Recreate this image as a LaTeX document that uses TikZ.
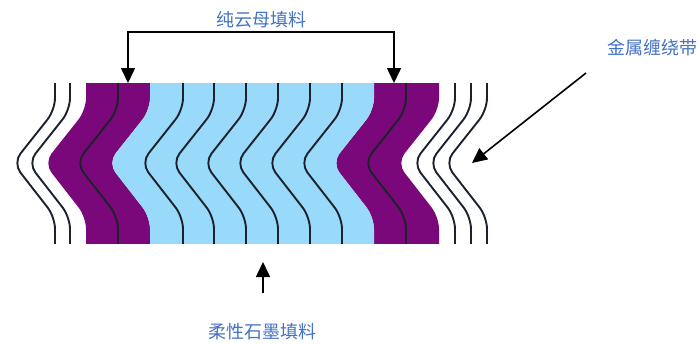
\documentclass[tikz,border=0pt]{standalone}
\usepackage{fontspec}
\newfontfamily\cjk{Noto Sans CJK SC}
\usetikzlibrary{arrows.meta}
\definecolor{micapurple}{RGB}{122,8,122}
\definecolor{graphiteblue}{RGB}{153,217,250}
\definecolor{stripline}{RGB}{28,34,44}
\definecolor{labelblue}{RGB}{68,114,196}
\tikzset{
  label text/.style={font=\cjk\fontsize{18pt}{20pt}\selectfont, text=labelblue, inner sep=0pt},
  strip/.style={draw=stripline, line width=1.9pt, rounded corners=12pt},
  band/.style={rounded corners=12pt},
  pointer/.style={draw=black, line width=1.6pt, -{Triangle[width=14pt,length=15pt]}},
}
\begin{document}
\begin{tikzpicture}[x=1pt,y=-1pt]
\useasboundingbox (0,0) rectangle (699,343);

% gasket cross-section, clipped to the winding height
\begin{scope}
  \clip (0,83) rectangle (699,243);
  % mica bands (outer layers)
  \fill[micapurple, band] (86,60) -- (86,110) -- (44,163) -- (86,217) -- (86,266)
        -- (150,266) -- (150,217) -- (108,163) -- (150,110) -- (150,60) -- cycle;
  \fill[micapurple, band] (374,60) -- (374,110) -- (332,163) -- (374,217) -- (374,266)
        -- (439,266) -- (439,217) -- (397,163) -- (439,110) -- (439,60) -- cycle;
  % flexible graphite band (middle)
  \fill[graphiteblue, band] (150,60) -- (150,110) -- (108,163) -- (150,217) -- (150,266)
        -- (374,266) -- (374,217) -- (332,163) -- (374,110) -- (374,60) -- cycle;
  % metal winding strips
  \foreach \s in {55,70,118,183,214,246,278,310,342,406,455,471,487}
    \draw[strip] (\s,60) -- (\s,110) -- ({\s-42},163) -- (\s,217) -- (\s,266);
\end{scope}

% labels
\node[label text] (mica) at (261,20) {纯云母填料};
\node[label text] (metal) at (652,48) {金属缠绕带};
\node[label text] (graphite) at (262,332) {柔性石墨填料};

% pointer ends
\coordinate (bar) at (261,32);
\coordinate (micaL) at (128,83);
\coordinate (micaR) at (394,83);
\coordinate (metalTail) at (586,73);
\coordinate (metalTip) at (472,163);
\coordinate (graphTail) at (263,293);
\coordinate (graphTip) at (263,262);

% pointers
\draw[pointer] (bar) -| (micaL);
\draw[pointer] (bar) -| (micaR);
\draw[pointer] (metalTail) -- (metalTip);
\draw[pointer] (graphTail) -- (graphTip);
\end{tikzpicture}
\end{document}
